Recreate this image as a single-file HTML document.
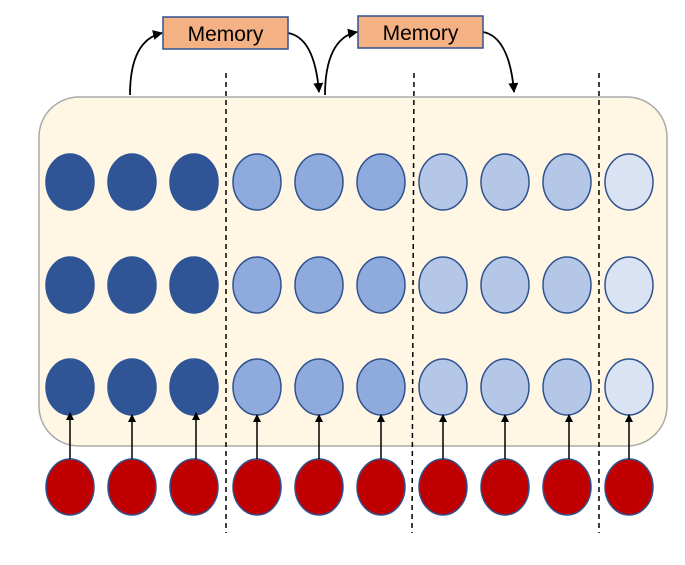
<!DOCTYPE html>
<html><head><meta charset="utf-8"><style>body{margin:0;background:#fff}svg{display:block}</style></head><body>
<svg width="685" height="565" viewBox="0 0 685 565" xmlns="http://www.w3.org/2000/svg">
<defs><marker id="a" markerWidth="8" markerHeight="8" refX="7" refY="4" orient="auto" markerUnits="userSpaceOnUse"><path d="M0,0 L8,4 L0,8 z" fill="#000"/></marker>
<marker id="b" markerWidth="10" markerHeight="10" refX="9" refY="5" orient="auto" markerUnits="userSpaceOnUse"><path d="M0,0 L10,5 L0,10 z" fill="#000"/></marker></defs>
<rect x="39" y="97" width="628" height="349" rx="40" fill="#FFF7E4" stroke="#aaa" stroke-width="1.5"/>
<g id="cells" stroke="#2F528F" stroke-width="1.5">
<!-- rows -->
<g fill="#2F5597" stroke="#2F5597">
<ellipse cx="70" cy="182" rx="24" ry="28"/><ellipse cx="132" cy="182" rx="24" ry="28"/><ellipse cx="194" cy="182" rx="24" ry="28"/>
<ellipse cx="70" cy="285" rx="24" ry="28"/><ellipse cx="132" cy="285" rx="24" ry="28"/><ellipse cx="194" cy="285" rx="24" ry="28"/>
<ellipse cx="70" cy="387" rx="24" ry="28"/><ellipse cx="132" cy="387" rx="24" ry="28"/><ellipse cx="194" cy="387" rx="24" ry="28"/>
</g>
<g fill="#8FAADC">
<ellipse cx="257" cy="182" rx="24" ry="28"/><ellipse cx="319" cy="182" rx="24" ry="28"/><ellipse cx="381" cy="182" rx="24" ry="28"/>
<ellipse cx="257" cy="285" rx="24" ry="28"/><ellipse cx="319" cy="285" rx="24" ry="28"/><ellipse cx="381" cy="285" rx="24" ry="28"/>
<ellipse cx="257" cy="387" rx="24" ry="28"/><ellipse cx="319" cy="387" rx="24" ry="28"/><ellipse cx="381" cy="387" rx="24" ry="28"/>
</g>
<g fill="#B4C7E7">
<ellipse cx="443" cy="182" rx="24" ry="28"/><ellipse cx="505" cy="182" rx="24" ry="28"/><ellipse cx="567" cy="182" rx="24" ry="28"/>
<ellipse cx="443" cy="285" rx="24" ry="28"/><ellipse cx="505" cy="285" rx="24" ry="28"/><ellipse cx="567" cy="285" rx="24" ry="28"/>
<ellipse cx="443" cy="387" rx="24" ry="28"/><ellipse cx="505" cy="387" rx="24" ry="28"/><ellipse cx="567" cy="387" rx="24" ry="28"/>
</g>
<g fill="#DAE3F3">
<ellipse cx="629" cy="182" rx="24" ry="28"/><ellipse cx="629" cy="285" rx="24" ry="28"/><ellipse cx="629" cy="387" rx="24" ry="28"/>
</g>
<g fill="#C00000">
<ellipse cx="70" cy="487" rx="24" ry="28"/><ellipse cx="132" cy="487" rx="24" ry="28"/><ellipse cx="194" cy="487" rx="24" ry="28"/>
<ellipse cx="257" cy="487" rx="24" ry="28"/><ellipse cx="319" cy="487" rx="24" ry="28"/><ellipse cx="381" cy="487" rx="24" ry="28"/>
<ellipse cx="443" cy="487" rx="24" ry="28"/><ellipse cx="505" cy="487" rx="24" ry="28"/><ellipse cx="567" cy="487" rx="24" ry="28"/>
<ellipse cx="629" cy="487" rx="24" ry="28"/>
</g>
</g>
<g stroke="#000" stroke-width="1.5" marker-end="url(#a)">
<line x1="70" y1="459" x2="70" y2="413"/><line x1="132" y1="459" x2="132" y2="415"/><line x1="196" y1="459" x2="196" y2="413"/>
<line x1="257" y1="459" x2="257" y2="415"/><line x1="319" y1="459" x2="319" y2="415"/><line x1="381" y1="459" x2="381" y2="415"/>
<line x1="443" y1="459" x2="443" y2="415"/><line x1="505" y1="459" x2="505" y2="415"/><line x1="569" y1="459" x2="569" y2="415"/>
<line x1="629" y1="459" x2="629" y2="415"/>
</g>
<g stroke="#000" stroke-width="1.5" stroke-dasharray="5,4">
<line x1="226" y1="73" x2="226" y2="533"/><line x1="414" y1="73" x2="412" y2="533"/><line x1="599" y1="73" x2="599" y2="533"/>
</g>
<g fill="none" stroke="#000" stroke-width="1.8" marker-end="url(#b)">
<path d="M130,95 C130,60 140,38 162,33"/>
<path d="M288,33 C305,36 316,55 319,92"/>
<path d="M325,95 C325,60 335,36 357,32"/>
<path d="M483,32 C500,35 511,55 514,92"/>
</g>
<rect x="163" y="17" width="125" height="32" fill="#F4B183" stroke="#2F528F" stroke-width="1.5"/>
<rect x="358" y="16" width="125" height="32" fill="#F4B183" stroke="#2F528F" stroke-width="1.5"/>
<text x="225.5" y="41" font-family="Liberation Sans, sans-serif" font-size="21" text-anchor="middle">Memory</text>
<text x="420.5" y="40" font-family="Liberation Sans, sans-serif" font-size="21" text-anchor="middle">Memory</text>
</svg>
</body></html>
